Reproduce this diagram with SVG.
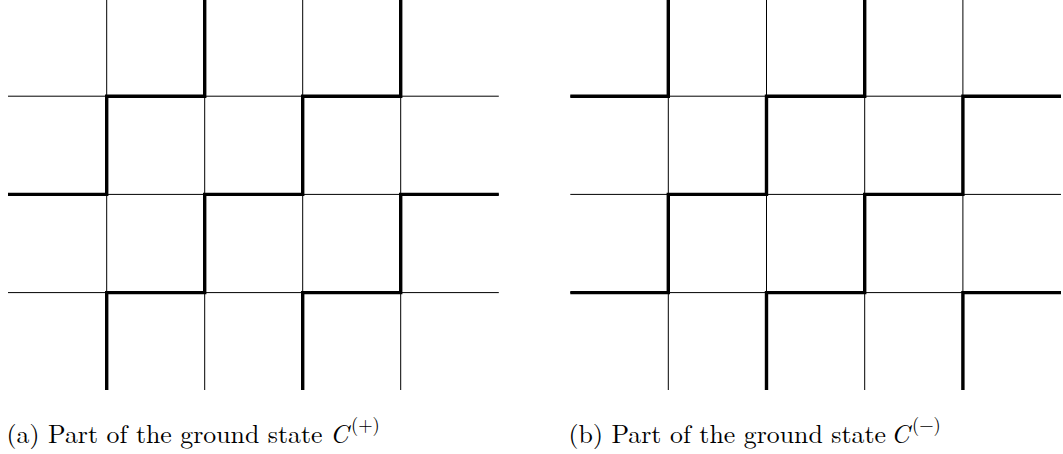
<svg xmlns="http://www.w3.org/2000/svg" width="1063" height="454" viewBox="0 0 1063 454">
  <style>
    .grid { stroke: #000; stroke-width: 1; fill: none; }
    .wall { stroke: #000; stroke-width: 3.4; fill: none; stroke-linejoin: miter; stroke-linecap: butt; }
    .cap { font-family: "Latin Modern Roman", "Liberation Serif", serif; font-size: 25.8px; fill: #000; }
    .it { font-style: italic; }
    .sup { font-size: 18.5px; }
  </style>
  <rect width="1063" height="454" fill="#fff"/>

  <!-- panel (a): ground state C(+) -->
  <g id="panel-a">
    <g id="grid-a" class="grid">
      <line x1="106.7" y1="0" x2="106.7" y2="390"/>
      <line x1="204.7" y1="0" x2="204.7" y2="390"/>
      <line x1="302.7" y1="0" x2="302.7" y2="390"/>
      <line x1="400.7" y1="0" x2="400.7" y2="390"/>
      <line x1="8" y1="96.2" x2="498.8" y2="96.2"/>
      <line x1="8" y1="194.4" x2="498.8" y2="194.4"/>
      <line x1="8" y1="292.6" x2="498.8" y2="292.6"/>
    </g>
    <g id="walls-a" class="wall">
      <path d="M204.7,0 V96.2 H106.7 V194.4 H8"/>
      <path d="M400.7,0 V96.2 H302.7 V194.4 H204.7 V292.6 H106.7 V390"/>
      <path d="M498.8,194.4 H400.7 V292.6 H302.7 V390"/>
    </g>
    <text id="caption-a" class="cap" y="443"><tspan x="6.5">(a) Part of the ground state</tspan><tspan class="it" x="330">C</tspan><tspan class="sup" x="351" y="431">(+)</tspan></text>
  </g>

  <!-- panel (b): ground state C(-) -->
  <g id="panel-b">
    <g id="grid-b" class="grid">
      <line x1="668.3" y1="0" x2="668.3" y2="390"/>
      <line x1="766.5" y1="0" x2="766.5" y2="390"/>
      <line x1="864.7" y1="0" x2="864.7" y2="390"/>
      <line x1="962.9" y1="0" x2="962.9" y2="390"/>
      <line x1="570.3" y1="96.2" x2="1061" y2="96.2"/>
      <line x1="570.3" y1="194.4" x2="1061" y2="194.4"/>
      <line x1="570.3" y1="292.6" x2="1061" y2="292.6"/>
    </g>
    <g id="walls-b" class="wall">
      <path d="M570.3,96.2 H668.3 V0"/>
      <path d="M570.3,292.6 H668.3 V194.4 H766.5 V96.2 H864.7 V0"/>
      <path d="M766.5,390 V292.6 H864.7 V194.4 H962.9 V96.2 H1061"/>
      <path d="M962.9,390 V292.6 H1061"/>
    </g>
    <text id="caption-b" class="cap" y="443"><tspan x="568.5">(b) Part of the ground state</tspan><tspan class="it" x="891">C</tspan><tspan class="sup" x="912" y="431">(−)</tspan></text>
  </g>
</svg>
